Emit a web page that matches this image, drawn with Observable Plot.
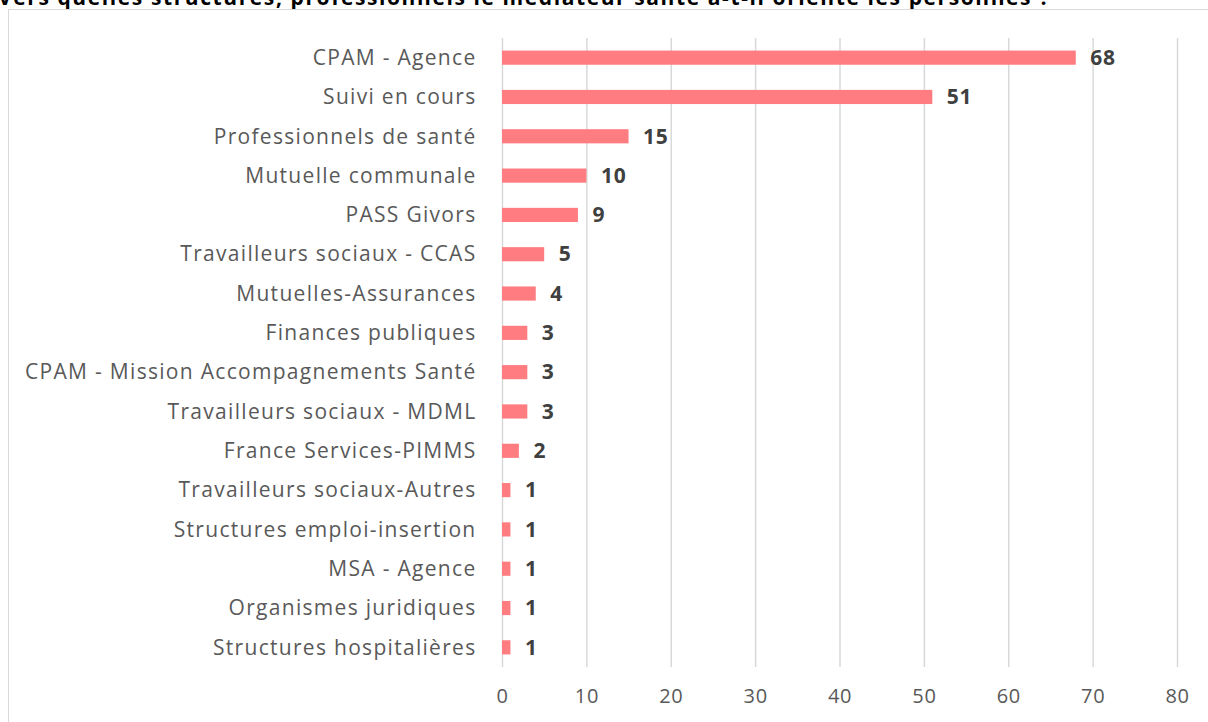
<!DOCTYPE html>
<html><head><meta charset="utf-8">
<script src="https://cdn.jsdelivr.net/npm/d3@7"></script>
<script src="https://cdn.jsdelivr.net/npm/@observablehq/plot@0.6"></script>
<style>
body{margin:0;background:#fff;overflow:hidden;width:1208px;height:722px;position:relative;}
#title{position:absolute;left:-2px;top:-17px;font:bold 21px "Open Sans",sans-serif;letter-spacing:1.6px;color:#000;white-space:nowrap;}
#frame{position:absolute;left:8px;top:9px;width:1220px;height:730px;border:1px solid #d9d9d9;}
#chart{position:absolute;left:0;top:0;}
#chart g[aria-label="y-axis tick label"]{letter-spacing:1.3px;}
#chart g[aria-label="x-axis tick label"]{letter-spacing:0.6px;}
#chart g[aria-label="text"]{letter-spacing:0.8px;}
</style></head>
<body>
<div id="title">Vers quelles structures, professionnels le médiateur santé a-t-il orienté les personnes ?</div>
<div id="frame"></div>
<div id="chart"></div>
<script>
const categories = ["CPAM - Agence","Suivi en cours","Professionnels de santé","Mutuelle communale","PASS Givors","Travailleurs sociaux - CCAS","Mutuelles-Assurances","Finances publiques","CPAM - Mission Accompagnements Santé","Travailleurs sociaux - MDML","France Services-PIMMS","Travailleurs sociaux-Autres","Structures emploi-insertion","MSA - Agence","Organismes juridiques","Structures hospitalières"];
const values = [68,51,15,10,9,5,4,3,3,3,2,1,1,1,1,1];
const xTicks = [0,10,20,30,40,50,60,70,80];
const data = categories.map((c,i)=>({cat:c, v:values[i]}));
const chart = Plot.plot({
  width:1208, height:722,
  marginLeft:502, marginRight:31, marginTop:38, marginBottom:55,
  style:{fontFamily:"'Open Sans', sans-serif", background:"transparent"},
  x:{domain:[0,80], ticks:xTicks, grid:false},
  y:{domain:categories, paddingInner:0.64, paddingOuter:0.32, round:false, label:null},
  marks:[
    Plot.ruleX(xTicks,{stroke:"#d9d9d9", strokeWidth:1.5}),
    Plot.barX(data,{y:"cat", x:"v", fill:"#ff7c80"}),
    Plot.text(data,{y:"cat", x:"v", text:d=>String(d.v), dx:14, textAnchor:"start", fill:"#404040", fontWeight:"bold", fontSize:21}),
    Plot.axisY({tickSize:0, tickPadding:26, fontSize:21, fill:"#595959", label:null}),
    Plot.axisX({ticks:xTicks, tickSize:0, tickPadding:21, fontSize:20, fill:"#595959", label:null})
  ]
});
document.getElementById("chart").appendChild(chart);
</script>
</body></html>
